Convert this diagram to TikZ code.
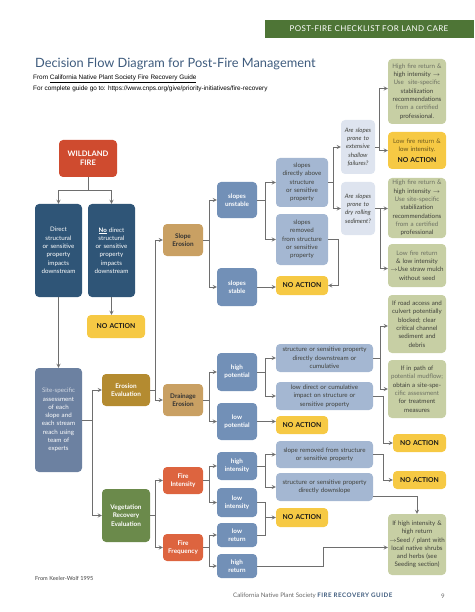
\documentclass[tikz,border=0pt]{standalone}
\usepackage{fontspec}
\setmainfont{Lato}
\newfontfamily\arial{Liberation Sans}
\definecolor{rouge}{HTML}{CF4B2F}
\definecolor{bleufonce}{HTML}{2F5577}
\definecolor{ardoise}{HTML}{6C81A1}
\definecolor{ocre}{HTML}{B48B30}
\definecolor{sable}{HTML}{C9A063}
\definecolor{vertfonce}{HTML}{6B8A4B}
\definecolor{brique}{HTML}{DD643F}
\definecolor{bleumoyen}{HTML}{7290B7}
\definecolor{bleuclair}{HTML}{A4B7D2}
\definecolor{bleupale}{HTML}{DEE4EF}
\definecolor{kaki}{HTML}{C7CFA4}
\definecolor{jaune}{HTML}{F6C944}
\definecolor{bandeau}{HTML}{4E7536}
\definecolor{titre}{HTML}{3E5B7D}
\definecolor{trait}{HTML}{6E6E6E}
\definecolor{grisfonce}{HTML}{3F403A}
\definecolor{grisclair}{HTML}{6C7062}

\begin{document}
\begin{tikzpicture}[>=stealth, x=1pt, y=-1pt,
		boite/.style={rounded corners=4pt, inner xsep=0pt, inner ysep=1pt, align=center, font=\fontsize{6.2}{8.3}\selectfont},
		taille/.style 2 args={text width=#1pt, minimum height=#2pt},
		action/.style={fill=jaune, text=black!90, font=\fontsize{6.8}{8}\selectfont\bfseries},
		choix/.style={fill=bleumoyen, text=white, font=\fontsize{6.3}{8}\selectfont\bfseries},
		cas/.style={fill=bleuclair, text=grisfonce},
		question/.style={fill=bleupale, text=grisfonce, font=\fontsize{6.1}{8.3}\selectfont\itshape},
		conseil/.style={fill=kaki, text=grisfonce},
		fleche/.style={draw=trait, line width=0.8pt}]
		\useasboundingbox (0,0) rectangle (474,612);

		% Bandeau et titre
		\fill[bandeau] (265,20) rectangle (474,38);
		\node[text=white, font=\fontsize{8}{9}\selectfont\addfontfeatures{LetterSpace=5}] (bandeau) at (369,29) {POST-FIRE CHECKLIST FOR LAND CARE};
		\node[anchor=west, inner sep=0pt, text=titre, font=\fontsize{12.8}{14}\selectfont] (titre) at (35,64) {Decision Flow Diagram for Post-Fire Management};
		\node[anchor=west, inner sep=0pt, font=\arial\fontsize{6.4}{7.5}\selectfont] (source) at (33,79) {From \underline{California Native Plant Society Fire Recovery Guide}};
		\node[anchor=west, inner sep=0pt, font=\arial\fontsize{6.4}{7.5}\selectfont] (lien) at (33,89) {For complete guide go to: https://www.cnps.org/give/priority-initiatives/fire-recovery};

		% Colonne de gauche
		\node[boite, taille={58}{37}, fill=rouge, text=white, font=\fontsize{7.6}{9.5}\selectfont\bfseries] (feu) at (88,158.5) {WILDLAND\\FIRE};
		\node[boite, taille={47}{93}, fill=bleufonce, text=white] (direct) at (58.5,250.5) {Direct\\structural\\or sensitive\\property\\impacts\\downstream};
		\node[boite, taille={47}{93}, fill=bleufonce, text=white] (indirect) at (111.5,250.5) {\textbf{\underline{No}} direct\\structural\\or sensitive\\property\\impacts\\downstream};
		\node[boite, action, taille={58}{23}] (na1) at (116,326.5) {NO ACTION};
		\node[boite, taille={47}{104}, fill=ardoise, text=white] (site) at (58.5,420) {\textcolor{white!70!ardoise}{Site-specific}\\assessment\\of each\\slope and\\each stream\\reach using\\team of\\experts};
		\node[boite, taille={48}{32}, fill=ocre, text=white, font=\fontsize{6.4}{8.2}\selectfont\bfseries] (erosion) at (126,390) {Erosion\\Evaluation};
		\node[boite, taille={48}{53}, fill=vertfonce, text=white, font=\fontsize{6.4}{8.2}\selectfont\bfseries] (vegetation) at (126,515.5) {Vegetation\\Recovery\\Evaluation};

		% Types d'évaluation
		\node[boite, taille={40}{32}, fill=sable, text=black!80, font=\fontsize{6.4}{8.2}\selectfont\bfseries] (pente) at (183,240) {Slope\\Erosion};
		\node[boite, taille={40}{32}, fill=sable, text=black!80, font=\fontsize{6.4}{8.2}\selectfont\bfseries] (drainage) at (183,400) {Drainage\\Erosion};
		\node[boite, taille={40}{27}, fill=brique, text=white, font=\fontsize{6.4}{8.2}\selectfont\bfseries] (intensite) at (183,480.5) {Fire\\Intensity};
		\node[boite, taille={40}{27}, fill=brique, text=white, font=\fontsize{6.4}{8.2}\selectfont\bfseries] (frequence) at (183,547.5) {Fire\\Frequency};

		% Conditions
		\node[boite, choix, taille={40}{36}] (instable) at (237,200) {slopes\\unstable};
		\node[boite, choix, taille={40}{38}] (stable) at (237,287) {slopes\\stable};
		\node[boite, choix, taille={40}{38}] (hautpot) at (237,372) {high\\potential};
		\node[boite, choix, taille={40}{37}] (baspot) at (237,421.5) {low\\potential};
		\node[boite, choix, taille={40}{28}] (hautint) at (237,466) {high\\intensity};
		\node[boite, choix, taille={40}{29}] (basint) at (237,502.5) {low\\intensity};
		\node[boite, choix, taille={40}{24}] (basret) at (237,535) {low\\return};
		\node[boite, choix, taille={40}{24}] (hautret) at (237,566) {high\\return};

		% Situations
		\node[boite, cas, taille={52}{49}] (dessus) at (302,182.5) {slopes\\directly above\\structure\\or sensitive\\property};
		\node[boite, cas, taille={52}{51}] (eloigne) at (302,239.5) {slopes\\removed\\from structure\\or sensitive\\property};
		\node[boite, action, taille={52}{19}] (na2) at (302,285.5) {NO ACTION};
		\node[boite, cas, taille={97}{28}] (aval) at (324.5,358) {structure or sensitive property\\directly downstream or\\cumulative};
		\node[boite, cas, taille={97}{28}] (faible) at (324.5,396) {low direct or cumulative\\impact on structure or\\sensitive property};
		\node[boite, action, taille={52}{18}] (na3) at (302,425) {NO ACTION};
		\node[boite, cas, taille={97}{27}] (separe) at (324.5,454.5) {slope removed from structure\\or sensitive property};
		\node[boite, cas, taille={97}{28}] (dessous) at (324.5,487) {structure or sensitive property\\directly downslope};
		\node[boite, action, taille={52}{19}] (na4) at (302,517.5) {NO ACTION};
		\node[boite, question, taille={34}{54}] (superficiel) at (358,147) {Are slopes\\prone to\\extensive\\shallow\\failures?};
		\node[boite, question, taille={34}{53}] (sec) at (358,208.5) {Are slopes\\prone to\\dry rolling\\sediment?};

		% Recommandations
		\node[boite, conseil, taille={58}{65}] (conseil1) at (417,91.5) {\textcolor{grisclair}{High fire return \&}\\high intensity $\rightarrow$\\\textcolor{grisclair}{Use\ \ site-specific}\\stabilization\\recommendations\\\textcolor{grisclair}{from a certified}\\professional.};
		\node[boite, action, taille={58}{37}, font=\fontsize{6.2}{8.3}\selectfont] (na7) at (417,150.5) {\textcolor{black!55!jaune}{Low fire return \&}\\\textcolor{black!60!jaune}{low intensity.}\\[2pt]\fontsize{6.8}{8}\selectfont\bfseries NO ACTION};
		\node[boite, conseil, taille={58}{60}] (conseil2) at (417,208) {\textcolor{grisclair}{High fire return \&}\\high intensity $\rightarrow$\\\textcolor{grisclair}{Use site-specific}\\stabilization\\recommendations\\\textcolor{grisclair}{from a certified}\\professional};
		\node[boite, conseil, taille={58}{43}] (paille) at (417,265.5) {\textcolor{grisclair}{Low fire return}\\\& low intensity\\$\rightarrow$Use straw mulch\\without seed};
		\node[boite, conseil, taille={58}{58}] (route) at (417,324) {If road access and\\culvert potentially\\blocked; clear\\critical channel\\sediment and\\debris};
		\node[boite, conseil, taille={58}{58}] (coulee) at (417,389) {If in path of\\\textcolor{grisclair}{potential mudflow;}\\obtain a site-spe-\\\textcolor{grisclair}{cific assessment}\\for treatment\\measures};
		\node[boite, action, taille={53}{18}] (na5) at (419.5,443) {NO ACTION};
		\node[boite, action, taille={53}{18}] (na6) at (419.5,480) {NO ACTION};
		\node[boite, conseil, taille={58}{61}] (semis) at (417,544.5) {If high intensity \&\\high return\\$\rightarrow$Seed / plant with\\local native shrubs\\and herbs (see\\Seeding section)};

		% Liaisons de gauche
		\draw[fleche] (feu.south) -- ++(0,13) coordinate (f1);
		\draw[fleche,->] (f1) -| (direct.north);
		\draw[fleche,->] (f1) -| (indirect.north);
		\draw[fleche,->] (direct.south) -- (site.north);
		\draw[fleche,->] (indirect.south) -- (indirect.south |- na1.north);
		\draw[fleche] (site.east) -- ++(10,0) coordinate (s1);
		\draw[fleche,->] (s1) |- (erosion.west);
		\draw[fleche,->] (s1) |- (vegetation.west);
		\draw[fleche] (erosion.east) -- ++(5,0) coordinate (e1);
		\draw[fleche,->] (e1) |- (pente.west);
		\draw[fleche,->] (e1) |- (drainage.west);
		\draw[fleche] (vegetation.east) -- ++(5,0) coordinate (v1);
		\draw[fleche,->] (v1) |- (intensite.west);
		\draw[fleche,->] (v1) |- (frequence.west);

		% Liaisons vers les conditions
		\draw[fleche] (pente.east) -- ++(6,0) coordinate (p1);
		\draw[fleche,->] (p1) |- (instable.west);
		\draw[fleche,->] (p1) |- (stable.west);
		\draw[fleche] (drainage.east) -- ++(6,0) coordinate (d1);
		\draw[fleche,->] (d1) |- (hautpot.west);
		\draw[fleche,->] (d1) |- (baspot.west);
		\draw[fleche] (intensite.east) -- ++(6,0) coordinate (i1);
		\draw[fleche,->] (i1) |- (hautint.west);
		\draw[fleche,->] (i1) |- (basint.west);
		\draw[fleche] (frequence.east) -- ++(6,0) coordinate (r1);
		\draw[fleche,->] (r1) |- (basret.west);
		\draw[fleche,->] (r1) |- (hautret.west);

		% Pentes
		\draw[fleche] (instable.east) -- ++(8,0) coordinate (u1);
		\draw[fleche,->] (u1) |- (dessus.west);
		\draw[fleche,->] (u1) |- (eloigne.west);
		\draw[fleche,->] (stable.east) -- (stable.east -| na2.west);
		\draw[fleche,->] (eloigne.east) -- ++(10,0) |- (na2.east);
		\draw[fleche] (dessus.east) -- ++(5,0) coordinate (a1);
		\draw[fleche,->] (a1) |- (superficiel.west);
		\draw[fleche,->] (a1) |- (sec.west);
		\draw[fleche] (superficiel.east) -- ++(4,0) coordinate (q1);
		\draw[fleche,->] (q1) |- ([yshift=3pt]conseil1.west);
		\draw[fleche,->] (q1) |- (na7.west);
		\draw[fleche] (sec.east) -- ++(5,0) coordinate (q2);
		\draw[fleche,->] (q2) -- (q2 -| conseil2.west);
		\draw[fleche,->] (q2) |- ([yshift=-3pt]paille.west);

		% Drainage
		\draw[fleche] (hautpot.east) -- ++(8,0) coordinate (h1);
		\draw[fleche,->] (h1) |- (aval.west);
		\draw[fleche,->] (h1) |- (faible.west);
		\draw[fleche,->] (baspot.east) -- (baspot.east -| na3.west);
		\draw[fleche] (aval.east) -- ++(7,0) coordinate (c1);
		\draw[fleche,->] (c1) |- ([yshift=-2pt]route.west);
		\draw[fleche,->] (c1) |- (coulee.west);
		\draw[fleche,->] (faible.east) -- ++(10,0) |- (na5.west);

		% Végétation
		\draw[fleche] (hautint.east) -- ++(8,0) coordinate (t1);
		\draw[fleche,->] (t1) |- (separe.west);
		\draw[fleche,->] (t1) |- (dessous.west);
		\draw[fleche,->] (separe.east) -- ++(10,0) |- (na6.west);
		\draw[fleche,->] ([yshift=-9pt]dessous.east) -| (semis.north);
		\draw[fleche] (basint.east) -- ++(8,0) coordinate (l1) |- (basret.east);
		\draw[fleche,->] (l1 |- na4.west) -- (na4.west);
		\draw[fleche,->] (hautret.east) -- ++(66,0) |- ([yshift=-3pt]semis.west);

		% Pied de page
		\node[anchor=west, inner sep=0pt, text=black!75, font=\fontsize{5.6}{6.5}\selectfont] (auteur) at (35,578) {From Keeler-Wolf 1995};
		\node[anchor=west, inner sep=0pt, font=\fontsize{6.2}{7}\selectfont] (guide) at (233,596) {\textcolor{black!60}{California Native Plant Society} \textcolor{titre}{\bfseries\addfontfeatures{LetterSpace=8}FIRE RECOVERY GUIDE}};
		\node[inner sep=0pt, text=black!60, font=\fontsize{6.2}{7}\selectfont] (page) at (443,596) {9};
	\end{tikzpicture}
\end{document}
